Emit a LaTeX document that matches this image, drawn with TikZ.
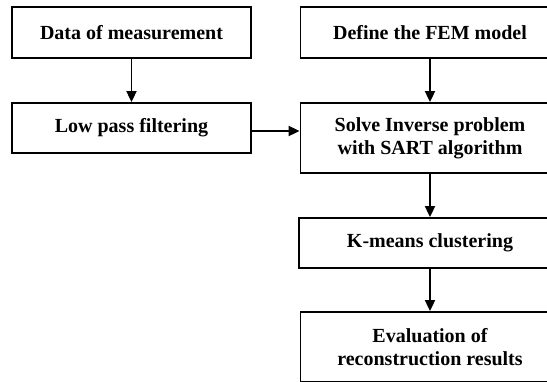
\documentclass[tikz,border=0pt]{standalone}
\usepackage{fontspec}
\setmainfont{Liberation Serif}
\usetikzlibrary{arrows.meta}
\begin{document}
\begin{tikzpicture}[x=1pt,y=-1pt,
  boxnode/.style={draw=black, line width=1.8pt, fill=white, inner sep=0pt, align=center,
    font=\fontsize{20}{23}\selectfont\bfseries},
  conn/.style={line width=1.8pt, -{Triangle[length=11pt,width=10pt]}}]
\clip (0,0) rectangle (547,381);
\fill[white] (0,0) rectangle (547,381);
\node[boxnode, minimum width=239pt, minimum height=51pt] (data) at (131.5,32.8) {Data of measurement};
\node[boxnode, minimum width=239pt, minimum height=50pt] (low) at (131.5,128) {Low pass filtering};
\node[boxnode, minimum width=259pt, minimum height=51pt] (fem) at (430,32.8) {Define the FEM model};
\node[boxnode, minimum width=259pt, minimum height=70pt] (solve) at (430,138) {Solve Inverse problem\\with SART algorithm};
\node[boxnode, minimum width=262pt, minimum height=50pt] (kmeans) at (430,243) {K-means clustering};
\node[boxnode, minimum width=259pt, minimum height=70pt] (eval) at (430,347) {Evaluation of\\reconstruction results};
\draw[conn] (data) -- (low);
\draw[conn] (fem) -- (solve);
\draw[conn] ([yshift=-3pt]low.east) -- ([yshift=-3pt]low.east -| solve.west);
\draw[conn] (solve) -- (kmeans);
\draw[conn] (kmeans) -- (eval);
\end{tikzpicture}
\end{document}
